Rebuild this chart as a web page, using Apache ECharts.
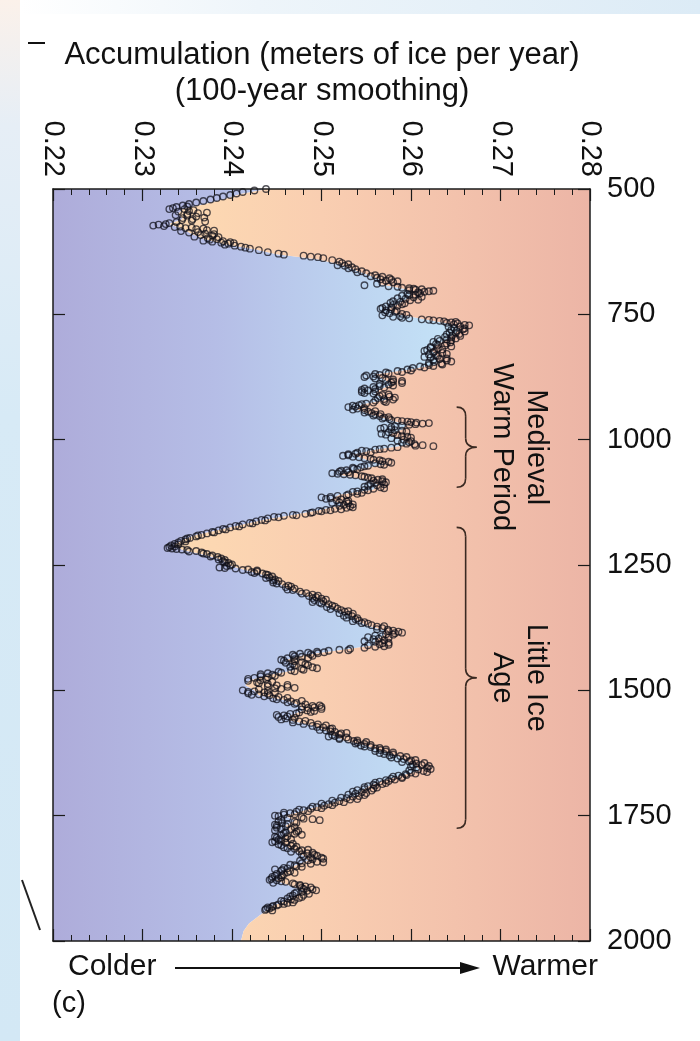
<!DOCTYPE html>
<html>
<head>
<meta charset="utf-8">
<script src="https://cdn.jsdelivr.net/npm/echarts@6/dist/echarts.min.js"></script>
<style>
html,body{margin:0;padding:0;background:#ffffff;}
#chart{width:700px;height:1041px;}
</style>
</head>
<body>
<div id="chart"></div>
<script>
// ---- axis definitions ----
const accTicks = [0.22, 0.23, 0.24, 0.25, 0.26, 0.27, 0.28];
const yearTicks = [500, 750, 1000, 1250, 1500, 1750, 2000];

// ---- boundary between cold (blue) and warm (peach) shading ----
const boundaryYears = [500,510,520,530,540,550,560,570,580,590,600,610,620,630,640,650,660,670,680,690,
  700,710,720,730,740,750,760,770,780,790,800,810,820,830,840,850,860,870,880,890,
  900,910,920,930,940,950,960,970,980,990,1000,1010,1020,1030,1040,1050,1060,1070,1080,1090,
  1100,1110,1120,1130,1140,1150,1160,1170,1180,1190,1200,1210,1220,1230,1240,1250,1260,1270,1280,1290,
  1300,1310,1320,1330,1340,1350,1360,1370,1380,1390,1400,1410,1420,1430,1440,1450,1460,1470,1480,1490,
  1500,1510,1520,1530,1540,1550,1560,1570,1580,1590,1600,1610,1620,1630,1640,1650,1660,1670,1680,1690,
  1700,1710,1720,1730,1740,1750,1760,1770,1780,1790,1800,1810,1820,1830,1840,1850,1860,1870,1880,1890,
  1900,1910,1920,1930,1940,1950,1965,1980,2000];
const boundaryAcc = [0.2440,0.2410,0.2392,0.2370,0.2345,0.2340,0.2345,0.2330,0.2345,0.2355,0.2370,0.2392,0.2425,0.2450,0.2495,0.2520,0.2535,0.2550,0.2565,0.2565,
  0.2595,0.2600,0.2595,0.2585,0.2575,0.2585,0.2615,0.2645,0.2655,0.2648,0.2640,0.2630,0.2622,0.2628,0.2630,0.2628,0.2600,0.2560,0.2570,0.2580,
  0.2565,0.2560,0.2575,0.2545,0.2540,0.2555,0.2575,0.2595,0.2590,0.2575,0.2590,0.2600,0.2560,0.2535,0.2550,0.2570,0.2540,0.2520,0.2550,0.2563,
  0.2558,0.2520,0.2510,0.2525,0.2500,0.2470,0.2435,0.2410,0.2385,0.2360,0.2345,0.2335,0.2345,0.2370,0.2390,0.2395,0.2415,0.2435,0.2448,0.2455,
  0.2465,0.2480,0.2495,0.2505,0.2518,0.2530,0.2540,0.2550,0.2570,0.2570,0.2560,0.2560,0.2520,0.2480,0.2460,0.2470,0.2470,0.2440,0.2420,0.2415,
  0.2425,0.2430,0.2460,0.2475,0.2480,0.2465,0.2465,0.2490,0.2505,0.2515,0.2525,0.2550,0.2565,0.2585,0.2595,0.2605,0.2610,0.2590,0.2570,0.2555,
  0.2545,0.2540,0.2520,0.2500,0.2480,0.2460,0.2470,0.2460,0.2465,0.2460,0.2455,0.2460,0.2470,0.2480,0.2485,0.2470,0.2460,0.2455,0.2450,0.2465,
  0.2480,0.2470,0.2460,0.2445,0.2438,0.2430,0.2419,0.2413,0.2410];

// ---- accumulation samples [year, meters of ice per year] ----
const pts0500 = [[500,0.2438],[503,0.2425],[506,0.2412],[509,0.2405],[512,0.2398],[515,0.2390],[518,0.2383],[521,0.2376],[524,0.2368],[527,0.2360],[530,0.2352],[533,0.2345],[536,0.2338],[538,0.2334],[540,0.2347],[542,0.2357],[545,0.2340],[548,0.2362],[550,0.2350],[552,0.2337],[555,0.2360],[557,0.2369],[560,0.2356],[562,0.2344],[565,0.2370],[568,0.2330],[571,0.2318],[573,0.2312],[574,0.2324],[576,0.2336],[578,0.2348],[580,0.2360],[582,0.2372],[584,0.2343],[587,0.2352],[590,0.2380],[592,0.2365],[595,0.2358],[598,0.2373],[600,0.2383]];
const pts0600 = [[603,0.2368],[605,0.2378],[607,0.2388],[609,0.2396],[611,0.2392],[613,0.2403],[615,0.2410],[617,0.2415],[619,0.2420],[622,0.2430],[626,0.2440],[629,0.2452],[631,0.2458],[633,0.2480],[635,0.2488],[636,0.2496],[638,0.2502],[642,0.2512],[645,0.2520],[648,0.2523],[650,0.2530],[653,0.2526],[656,0.2534],[660,0.2538],[664,0.2545],[668,0.2550],[672,0.2560],[675,0.2568],[678,0.2576],[680,0.2566],[683,0.2572],[686,0.2580],[689,0.2562],[692,0.2548],[694,0.2575],[697,0.2590],[699,0.2603],[700,0.2612]];
const pts0700 = [[702,0.2598],[704,0.2620],[706,0.2608],[709,0.2596],[711,0.2605],[713,0.2590],[716,0.2603],[719,0.2594],[722,0.2599],[725,0.2588],[728,0.2593],[731,0.2580],[734,0.2572],[737,0.2568],[740,0.2578],[743,0.2584],[746,0.2571],[749,0.2590],[752,0.2568],[755,0.2580],[758,0.2598],[760,0.2612],[762,0.2625],[764,0.2637],[766,0.2645],[768,0.2652],[771,0.2660],[774,0.2655],[777,0.2648],[780,0.2658],[783,0.2651],[786,0.2643],[789,0.2654],[792,0.2646],[795,0.2638],[798,0.2650],[800,0.2640]];
const pts0800 = [[803,0.2632],[806,0.2644],[809,0.2628],[812,0.2638],[815,0.2622],[818,0.2630],[821,0.2618],[824,0.2626],[827,0.2635],[830,0.2620],[833,0.2630],[836,0.2622],[839,0.2632],[842,0.2640],[845,0.2626],[848,0.2634],[851,0.2620],[854,0.2610],[857,0.2602],[860,0.2596],[863,0.2585],[866,0.2572],[869,0.2560],[872,0.2550],[875,0.2548],[878,0.2560],[881,0.2572],[884,0.2580],[887,0.2590],[890,0.2575],[893,0.2565],[896,0.2570],[899,0.2560]];
const pts0900 = [[902,0.2552],[905,0.2545],[908,0.2558],[911,0.2568],[914,0.2576],[917,0.2563],[920,0.2580],[923,0.2570],[926,0.2558],[929,0.2545],[932,0.2535],[935,0.2530],[938,0.2540],[941,0.2548],[944,0.2552],[947,0.2556],[950,0.2560],[953,0.2565],[956,0.2570],[959,0.2576],[962,0.2585],[964,0.2596],[966,0.2606],[968,0.2613],[970,0.2598],[973,0.2582],[976,0.2570],[979,0.2578],[982,0.2590],[985,0.2575],[988,0.2567],[991,0.2585],[994,0.2596],[997,0.2578],[1000,0.2592]];
const pts1000 = [[1003,0.2600],[1006,0.2590],[1009,0.2604],[1011,0.2613],[1013,0.2625],[1015,0.2585],[1018,0.2570],[1020,0.2560],[1023,0.2550],[1026,0.2540],[1029,0.2530],[1032,0.2524],[1034,0.2535],[1037,0.2548],[1040,0.2558],[1043,0.2568],[1046,0.2578],[1049,0.2566],[1052,0.2552],[1055,0.2544],[1058,0.2536],[1061,0.2528],[1064,0.2520],[1067,0.2512],[1069,0.2525],[1071,0.2538],[1074,0.2548],[1077,0.2556],[1080,0.2563],[1083,0.2568],[1086,0.2560],[1089,0.2570],[1092,0.2552],[1095,0.2566],[1098,0.2558],[1100,0.2548]];
const pts1100 = [[1103,0.2540],[1106,0.2545],[1109,0.2530],[1112,0.2518],[1115,0.2500],[1117,0.2510],[1119,0.2522],[1121,0.2517],[1123,0.2528],[1125,0.2520],[1127,0.2530],[1130,0.2525],[1133,0.2532],[1136,0.2528],[1138,0.2515],[1140,0.2505],[1142,0.2497],[1145,0.2490],[1148,0.2482],[1150,0.2468],[1152,0.2458],[1154,0.2447],[1157,0.2440],[1160,0.2433],[1163,0.2427],[1166,0.2420],[1169,0.2412],[1172,0.2404],[1175,0.2398],[1178,0.2390],[1181,0.2385],[1184,0.2378],[1187,0.2372],[1190,0.2366],[1193,0.2360],[1196,0.2353],[1199,0.2348]];
const pts1200 = [[1202,0.2343],[1205,0.2340],[1208,0.2336],[1211,0.2332],[1214,0.2330],[1216,0.2328],[1218,0.2338],[1220,0.2350],[1222,0.2360],[1225,0.2366],[1228,0.2372],[1231,0.2378],[1234,0.2384],[1237,0.2388],[1240,0.2392],[1243,0.2390],[1246,0.2396],[1249,0.2400],[1252,0.2394],[1255,0.2386],[1257,0.2404],[1259,0.2418],[1261,0.2428],[1264,0.2422],[1267,0.2434],[1270,0.2440],[1273,0.2445],[1276,0.2438],[1279,0.2448],[1282,0.2452],[1285,0.2446],[1288,0.2456],[1291,0.2463],[1294,0.2460],[1297,0.2470],[1300,0.2468]];
const pts1300 = [[1303,0.2476],[1306,0.2483],[1309,0.2490],[1312,0.2486],[1314,0.2494],[1317,0.2500],[1320,0.2492],[1322,0.2502],[1325,0.2498],[1328,0.2508],[1331,0.2512],[1334,0.2506],[1337,0.2518],[1340,0.2522],[1343,0.2526],[1346,0.2520],[1349,0.2530],[1352,0.2534],[1355,0.2528],[1358,0.2538],[1361,0.2542],[1364,0.2548],[1367,0.2552],[1370,0.2556],[1373,0.2562],[1376,0.2568],[1379,0.2574],[1381,0.2580],[1383,0.2586],[1385,0.2590],[1388,0.2572],[1391,0.2560],[1394,0.2552],[1397,0.2564],[1400,0.2570]];
const pts1400 = [[1403,0.2560],[1405,0.2575],[1408,0.2565],[1410,0.2552],[1412,0.2570],[1415,0.2548],[1417,0.2532],[1419,0.2520],[1421,0.2508],[1423,0.2495],[1425,0.2485],[1427,0.2476],[1429,0.2468],[1431,0.2490],[1433,0.2478],[1436,0.2462],[1439,0.2455],[1442,0.2470],[1445,0.2460],[1448,0.2482],[1451,0.2470],[1454,0.2490],[1457,0.2478],[1460,0.2466],[1463,0.2452],[1466,0.2440],[1469,0.2445],[1472,0.2432],[1475,0.2425],[1478,0.2438],[1481,0.2418],[1484,0.2428],[1487,0.2440],[1490,0.2450],[1493,0.2462],[1496,0.2448],[1498,0.2430]];
const pts1500 = [[1500,0.2412],[1502,0.2425],[1504,0.2436],[1506,0.2418],[1508,0.2430],[1510,0.2442],[1513,0.2452],[1516,0.2446],[1519,0.2458],[1522,0.2466],[1525,0.2472],[1528,0.2482],[1531,0.2490],[1533,0.2500],[1535,0.2485],[1538,0.2478],[1541,0.2492],[1544,0.2475],[1547,0.2465],[1550,0.2458],[1553,0.2452],[1556,0.2460],[1559,0.2468],[1562,0.2475],[1565,0.2488],[1568,0.2496],[1571,0.2490],[1574,0.2502],[1577,0.2510],[1580,0.2505],[1583,0.2515],[1586,0.2522],[1589,0.2512],[1592,0.2508],[1595,0.2520],[1598,0.2530]];
const pts1600 = [[1601,0.2536],[1604,0.2540],[1607,0.2548],[1610,0.2544],[1613,0.2555],[1616,0.2560],[1619,0.2566],[1622,0.2572],[1625,0.2565],[1628,0.2580],[1631,0.2588],[1634,0.2578],[1637,0.2592],[1640,0.2600],[1643,0.2590],[1646,0.2606],[1649,0.2612],[1652,0.2600],[1655,0.2618],[1658,0.2608],[1661,0.2614],[1664,0.2600],[1667,0.2594],[1670,0.2586],[1673,0.2590],[1676,0.2578],[1679,0.2572],[1682,0.2565],[1685,0.2572],[1688,0.2558],[1691,0.2552],[1694,0.2562],[1697,0.2548],[1700,0.2556]];
const pts1700 = [[1703,0.2545],[1706,0.2538],[1709,0.2548],[1712,0.2535],[1715,0.2528],[1718,0.2532],[1721,0.2520],[1724,0.2515],[1727,0.2508],[1730,0.2503],[1733,0.2495],[1736,0.2488],[1739,0.2480],[1742,0.2472],[1745,0.2465],[1748,0.2458],[1751,0.2452],[1754,0.2462],[1757,0.2490],[1759,0.2498],[1762,0.2470],[1765,0.2456],[1768,0.2448],[1771,0.2460],[1774,0.2450],[1777,0.2466],[1780,0.2474],[1783,0.2460],[1786,0.2470],[1789,0.2455],[1792,0.2448],[1795,0.2460],[1798,0.2452]];
const pts1800 = [[1801,0.2448],[1804,0.2460],[1807,0.2452],[1810,0.2466],[1813,0.2458],[1816,0.2470],[1819,0.2478],[1822,0.2466],[1825,0.2484],[1828,0.2492],[1831,0.2480],[1834,0.2500],[1837,0.2490],[1840,0.2476],[1843,0.2502],[1846,0.2488],[1849,0.2470],[1852,0.2478],[1855,0.2462],[1858,0.2456],[1861,0.2465],[1864,0.2470],[1867,0.2458],[1870,0.2448],[1873,0.2455],[1876,0.2444],[1879,0.2450],[1882,0.2460],[1885,0.2468],[1888,0.2476],[1891,0.2482],[1894,0.2478],[1897,0.2490],[1900,0.2484]];
const pts1900 = [[1903,0.2472],[1906,0.2486],[1909,0.2468],[1912,0.2478],[1915,0.2462],[1918,0.2470],[1921,0.2458],[1924,0.2462],[1927,0.2452],[1930,0.2446],[1933,0.2440],[1936,0.2438],[1939,0.2445]];
// additional samples filling the wider clusters
const extraA = [[535,0.2350],[540,0.2330],[544,0.2352],[547,0.2372],[553,0.2350],[558,0.2345],[563,0.2355],[566,0.2338],[570,0.2326],[575,0.2342],[577,0.2355],[579,0.2368],[583,0.2380],[586,0.2362],[589,0.2370],[593,0.2378],[596,0.2385],[601,0.2375],[604,0.2390],[606,0.2398],[608,0.2402],
  [652,0.2518],[658,0.2530],[666,0.2540],[674,0.2555],[677,0.2562],[681,0.2578],[684,0.2585],[687,0.2568],[695,0.2585],[698,0.2598],
  [701,0.2605],[703,0.2625],[705,0.2615],[708,0.2610],[712,0.2598],[715,0.2612],[718,0.2585],[721,0.2608],[724,0.2580],[727,0.2577],[730,0.2590],[733,0.2585],[736,0.2578],[739,0.2566],[742,0.2572],[745,0.2582],[748,0.2576],[751,0.2595],[754,0.2588],[757,0.2590],
  [761,0.2620],[763,0.2632],[765,0.2650],[767,0.2640],[770,0.2648],[772,0.2665],[775,0.2642],[778,0.2660],[781,0.2645],[784,0.2660],[787,0.2650],[790,0.2640],[793,0.2655],[796,0.2645],[799,0.2630],[802,0.2645],[805,0.2625],[808,0.2640],[811,0.2630],[814,0.2645],[817,0.2622],[820,0.2635],[823,0.2615],[826,0.2625],[829,0.2640],[832,0.2628],[835,0.2615],[838,0.2640],[841,0.2625],[844,0.2645],[847,0.2620],[850,0.2635],[853,0.2625],[856,0.2615],
  [862,0.2600],[865,0.2590],[868,0.2575],[871,0.2565],[874,0.2558],[877,0.2568],[880,0.2580],[883,0.2590],[886,0.2578],[889,0.2565],[892,0.2580],[895,0.2558],[898,0.2548],[901,0.2545],[904,0.2560],[907,0.2548],[910,0.2575],[913,0.2565],[916,0.2582],[919,0.2570],[922,0.2560],[925,0.2572],[928,0.2550],[931,0.2542],[934,0.2538],[937,0.2548],[940,0.2535],[943,0.2560],[946,0.2548],[949,0.2566],[952,0.2558],[955,0.2575],[958,0.2568],[961,0.2578],[963,0.2590],[965,0.2600],[967,0.2620],[969,0.2605],[972,0.2590],[975,0.2578],[978,0.2566],[981,0.2582],[984,0.2595],[987,0.2580],[990,0.2572],[993,0.2590],[996,0.2600]];
const extraB = [[1002,0.2585],[1005,0.2598],[1008,0.2595],[1012,0.2605],[1016,0.2578],[1019,0.2565],[1022,0.2545],[1025,0.2555],[1028,0.2538],[1031,0.2530],[1035,0.2542],[1038,0.2555],[1041,0.2565],[1044,0.2575],[1047,0.2560],[1050,0.2570],[1053,0.2548],[1056,0.2535],[1059,0.2540],[1062,0.2522],[1065,0.2530],[1068,0.2518],[1070,0.2532],[1073,0.2545],[1076,0.2552],[1079,0.2568],[1082,0.2558],[1085,0.2572],[1088,0.2555],[1091,0.2562],[1094,0.2548],[1097,0.2570],[1101,0.2552],[1104,0.2535],[1108,0.2540],[1111,0.2528],[1114,0.2510],[1118,0.2505],[1122,0.2530],[1126,0.2512],[1129,0.2535],[1132,0.2520],[1135,0.2535],[1139,0.2522],[1141,0.2510],
  [1143,0.2500],[1146,0.2488],[1151,0.2472],[1155,0.2452],[1161,0.2437],[1167,0.2423],[1173,0.2408],[1179,0.2393],[1185,0.2380],[1191,0.2362],[1197,0.2350],[1203,0.2348],[1209,0.2340],[1213,0.2336],[1217,0.2333],[1219,0.2344],[1223,0.2352],[1227,0.2368],[1233,0.2376],[1239,0.2385],[1245,0.2392],[1251,0.2398],[1256,0.2392],[1260,0.2412],[1263,0.2428],[1266,0.2425],[1269,0.2438],[1275,0.2442],[1281,0.2446],[1287,0.2450],[1293,0.2466],[1299,0.2462],
  [1307,0.2478],[1311,0.2496],[1316,0.2490],[1319,0.2505],[1324,0.2490],[1327,0.2500],[1333,0.2515],[1338,0.2510],[1342,0.2530],[1347,0.2535],[1351,0.2525],[1356,0.2540],[1362,0.2535],[1366,0.2545],[1372,0.2570],[1378,0.2562],[1382,0.2575],[1386,0.2582],[1389,0.2580],[1392,0.2568],[1395,0.2575],[1398,0.2558],[1402,0.2548],[1406,0.2568],[1409,0.2575],[1413,0.2560],
  [1420,0.2530],[1424,0.2503],[1426,0.2496],[1428,0.2488],[1432,0.2470],[1435,0.2485],[1438,0.2470],[1441,0.2458],[1444,0.2478],[1447,0.2468],[1450,0.2485],[1453,0.2465],[1456,0.2495],[1459,0.2480],[1462,0.2470],[1465,0.2455],[1468,0.2432],[1471,0.2448],[1474,0.2440],[1477,0.2418],[1480,0.2432],[1483,0.2445],[1486,0.2430],[1489,0.2462],[1492,0.2440],[1495,0.2470],[1497,0.2455]];
const extraC = [[1501,0.2440],[1503,0.2418],[1505,0.2448],[1507,0.2440],[1509,0.2422],[1512,0.2436],[1515,0.2462],[1518,0.2450],
  [1521,0.2478],[1524,0.2462],[1527,0.2470],[1530,0.2498],[1532,0.2478],[1534,0.2492],[1537,0.2500],[1540,0.2484],[1543,0.2488],[1546,0.2472],[1549,0.2450],[1552,0.2462],[1555,0.2470],[1558,0.2455],[1561,0.2482],[1564,0.2468],[1567,0.2480],[1570,0.2505],[1573,0.2495],[1576,0.2512],[1579,0.2498],[1582,0.2510],[1585,0.2528],[1588,0.2520],[1591,0.2515],[1594,0.2528],[1597,0.2520],[1600,0.2540],[1603,0.2550],[1606,0.2538],[1609,0.2555],[1612,0.2548],[1615,0.2565],
  [1618,0.2572],[1621,0.2560],[1624,0.2580],[1627,0.2570],[1630,0.2576],[1633,0.2595],[1636,0.2585],[1639,0.2605],[1642,0.2598],[1645,0.2615],[1648,0.2602],[1651,0.2620],[1654,0.2606],[1657,0.2622],[1660,0.2598],[1663,0.2618],[1666,0.2605],[1669,0.2595],[1672,0.2580],[1675,0.2590],[1678,0.2582],[1681,0.2575],[1684,0.2560],[1687,0.2568],[1690,0.2560],[1693,0.2548],[1696,0.2558],[1699,0.2540],
  [1702,0.2535],[1705,0.2550],[1708,0.2530],[1711,0.2542],[1714,0.2522],[1717,0.2540],[1720,0.2512],[1723,0.2525],[1726,0.2500],[1729,0.2512],[1732,0.2490],[1735,0.2500],[1738,0.2475],[1741,0.2485],[1744,0.2458],[1747,0.2470],[1750,0.2448],[1753,0.2478],[1756,0.2480],[1758,0.2455],[1761,0.2452],[1764,0.2472],[1767,0.2462],[1770,0.2450],[1773,0.2470],[1776,0.2455],[1779,0.2448],[1782,0.2472],[1785,0.2458],[1788,0.2478],[1791,0.2462],[1794,0.2450],[1797,0.2466],[1800,0.2455],
  [1803,0.2445],[1806,0.2468],[1809,0.2455],[1812,0.2472],[1815,0.2462],[1818,0.2485],[1821,0.2475],[1824,0.2490],[1827,0.2478],[1830,0.2495],[1833,0.2488],[1836,0.2502],[1839,0.2485],[1842,0.2495],[1845,0.2478],[1848,0.2465],[1851,0.2472],[1854,0.2458],[1857,0.2448],[1860,0.2455],[1863,0.2462],[1866,0.2450],[1869,0.2456],[1872,0.2445],[1875,0.2452],[1878,0.2442],[1881,0.2455],[1884,0.2446],[1887,0.2470],[1890,0.2476],[1893,0.2488],[1896,0.2480],[1899,0.2494],
  [1902,0.2478],[1905,0.2470],[1908,0.2480],[1911,0.2465],[1914,0.2475],[1917,0.2466],[1920,0.2455],[1923,0.2468],[1926,0.2458],[1929,0.2450],[1932,0.2445],[1935,0.2442],[1938,0.2437]];

// ---- annotations (periods in years) ----
const periods = [
  { label: 'Medieval\nWarm Period', from: 935, to: 1095, mid: 1015 },
  { label: 'Little Ice\nAge', from: 1175, to: 1775, mid: 1475 }
];

const allPts = [].concat(pts0500, pts0600, pts0700, pts0800, pts0900, pts1000, pts1100,
  pts1200, pts1300, pts1400, pts1500, pts1600, pts1700, pts1800, pts1900, extraA, extraB, extraC);
const scatterData = allPts.map(p => [p[1], p[0]]);
const boundary = boundaryYears.map((y, i) => [boundaryAcc[i], y]);

const FONT = "'Liberation Sans', Arial, sans-serif";
const xMin = accTicks[0], xMax = accTicks[accTicks.length - 1];
const yMin = yearTicks[0], yMax = yearTicks[yearTicks.length - 1];

const chart = echarts.init(document.getElementById('chart'), null, { renderer: 'canvas' });

function linGrad(x0, x1, stops) {
  return { type: 'linear', x: x0, y: 0, x2: x1, y2: 0, global: true,
    colorStops: stops.map(s => ({ offset: s[0], color: s[1] })) };
}

const axisLineStyle = { color: '#1a1a1a', width: 1.5 };
const tickStyle = { color: '#1a1a1a', width: 1.2 };

const option = {
  animation: false,
  backgroundColor: '#ffffff',
  grid: { left: 53, top: 189, width: 537, height: 752, show: false },
  xAxis: [
    {
      type: 'value', position: 'top', min: xMin, max: xMax, interval: 0.01, z: 10,
      axisLine: { show: true, lineStyle: axisLineStyle },
      axisTick: { show: true, inside: true, length: 12, lineStyle: tickStyle },
      minorTick: { show: true, splitNumber: 5, length: 6, lineStyle: { color: '#1a1a1a', width: 1 } },
      splitLine: { show: false },
      axisLabel: { show: true, rotate: 90, margin: 12, fontSize: 29, color: '#111', fontFamily: FONT,
        formatter: v => v.toFixed(2) }
    },
    {
      type: 'value', position: 'bottom', min: xMin, max: xMax, interval: 0.01, z: 10,
      axisLine: { show: true, lineStyle: axisLineStyle },
      axisTick: { show: true, inside: true, length: 12, lineStyle: tickStyle },
      minorTick: { show: true, splitNumber: 5, length: 6, lineStyle: { color: '#1a1a1a', width: 1 } },
      splitLine: { show: false },
      axisLabel: { show: false }
    }
  ],
  yAxis: [
    {
      type: 'value', position: 'right', inverse: true, min: yMin, max: yMax, interval: 250, z: 10,
      axisLine: { show: true, lineStyle: axisLineStyle },
      axisTick: { show: true, inside: true, length: 12, lineStyle: tickStyle },
      splitLine: { show: false },
      axisLabel: { show: true, margin: 17, fontSize: 29, color: '#111', fontFamily: FONT,
        formatter: v => String(v) }
    },
    {
      type: 'value', position: 'left', inverse: true, min: yMin, max: yMax, interval: 250, z: 10,
      axisLine: { show: true, lineStyle: axisLineStyle },
      axisTick: { show: true, inside: true, length: 12, lineStyle: tickStyle },
      splitLine: { show: false },
      axisLabel: { show: false }
    }
  ],
  series: [
    {
      type: 'custom',
      xAxisIndex: 0, yAxisIndex: 0,
      clip: true,
      z: 0,
      silent: true,
      data: [[xMin, yMin]],
      renderItem: function (params, api) {
        const pL = api.coord([xMin, yMin])[0];
        const pR = api.coord([xMax, yMin])[0];
        const left = [api.coord([xMin, yMin])];
        const right = [api.coord([xMax, yMin])];
        boundary.forEach(b => { const c = api.coord(b); left.push(c); right.push(c); });
        left.push(api.coord([xMin, yMax]));
        right.push(api.coord([xMax, yMax]));
        const blue = linGrad(pL, pR, [[0, '#aeacda'], [0.3, '#b5bde6'], [0.55, '#bdd3f0'], [0.75, '#c4e3f7'], [1, '#c8ebfb']]);
        const peach = linGrad(pL, pR, [[0, '#fde2b3'], [0.3, '#fcd7b2'], [0.5, '#f9ceb1'], [0.75, '#f3c2ac'], [1, '#ecb5a6']]);
        return { type: 'group', children: [
          { type: 'polygon', shape: { points: left }, style: { fill: blue } },
          { type: 'polygon', shape: { points: right }, style: { fill: peach } }
        ] };
      }
    },
    {
      type: 'scatter',
      xAxisIndex: 0, yAxisIndex: 0,
      z: 3,
      symbol: 'circle',
      symbolSize: 6.5,
      data: scatterData,
      itemStyle: { color: 'rgba(0,0,0,0)', borderColor: 'rgba(15,15,25,0.9)', borderWidth: 1.35 }
    }
  ]
};

chart.setOption(option);

// ---- annotation graphics positioned via the axes ----
function px(v, y) { return chart.convertToPixel({ gridIndex: 0 }, [v, y]); }

const g = [];
// page decorations
g.push({ type: 'rect', shape: { x: 0, y: 0, width: 20, height: 1041 }, z: 0,
  style: { fill: { type: 'linear', x: 0, y: 0, x2: 0, y2: 1, colorStops: [
    { offset: 0, color: '#fbf1ea' }, { offset: 0.12, color: '#e6eef6' }, { offset: 0.4, color: '#d7eaf6' }, { offset: 1, color: '#d3e8f5' }] } } });
g.push({ type: 'rect', shape: { x: 20, y: 0, width: 680, height: 14 }, z: 0,
  style: { fill: { type: 'linear', x: 0, y: 0, x2: 1, y2: 0, colorStops: [
    { offset: 0, color: '#ffffff' }, { offset: 0.35, color: '#eef5fa' }, { offset: 1, color: '#dcebf6' }] } } });
g.push({ type: 'line', shape: { x1: 22, y1: 880, x2: 40, y2: 930 }, style: { stroke: '#222', lineWidth: 2 } });

// title
g.push({ type: 'line', shape: { x1: 28, y1: 43, x2: 45, y2: 43 }, style: { stroke: '#111', lineWidth: 2 } });
g.push({ type: 'text', x: 322, y: 55, style: { text: 'Accumulation (meters of ice per year)', font: '31px ' + FONT, fill: '#111', textAlign: 'center', textVerticalAlign: 'middle' } });
g.push({ type: 'text', x: 322, y: 91, style: { text: '(100-year smoothing)', font: '31px ' + FONT, fill: '#111', textAlign: 'center', textVerticalAlign: 'middle' } });

// bottom labels
const bottomY = px(xMin, yMax)[1];
g.push({ type: 'text', x: 68, y: bottomY + 26, style: { text: 'Colder', font: '30px ' + FONT, fill: '#111', textAlign: 'left', textVerticalAlign: 'middle' } });
g.push({ type: 'text', x: 598, y: bottomY + 26, style: { text: 'Warmer', font: '30px ' + FONT, fill: '#111', textAlign: 'right', textVerticalAlign: 'middle' } });
g.push({ type: 'line', shape: { x1: 175, y1: bottomY + 27, x2: 468, y2: bottomY + 27 }, style: { stroke: '#111', lineWidth: 2 } });
g.push({ type: 'polygon', shape: { points: [[460, bottomY + 21], [480, bottomY + 27], [460, bottomY + 33]] }, style: { fill: '#111' } });
g.push({ type: 'text', x: 52, y: bottomY + 63, style: { text: '(c)', font: '29px ' + FONT, fill: '#111', textAlign: 'left', textVerticalAlign: 'middle' } });

// period braces and labels
const braceStyle = { stroke: '#3a2a22', lineWidth: 1.6, fill: null };
periods.forEach(p => {
  const top = px(0.2651, p.from)[1];
  const bot = px(0.2651, p.to)[1];
  const mid = px(0.2651, p.mid)[1];
  const xl = px(0.2651, p.from)[0];
  const xs = xl + 9, xt = xl + 20;
  const r = 9;
  g.push({ type: 'bezierCurve', z: 10, shape: { x1: xl, y1: top, cpx1: xs, cpy1: top, x2: xs, y2: top + r }, style: braceStyle });
  g.push({ type: 'line', z: 10, shape: { x1: xs, y1: top + r, x2: xs, y2: mid - r }, style: braceStyle });
  g.push({ type: 'bezierCurve', z: 10, shape: { x1: xs, y1: mid - r, cpx1: xs, cpy1: mid, x2: xt, y2: mid }, style: braceStyle });
  g.push({ type: 'bezierCurve', z: 10, shape: { x1: xt, y1: mid, cpx1: xs, cpy1: mid, x2: xs, y2: mid + r }, style: braceStyle });
  g.push({ type: 'line', z: 10, shape: { x1: xs, y1: mid + r, x2: xs, y2: bot - r }, style: braceStyle });
  g.push({ type: 'bezierCurve', z: 10, shape: { x1: xs, y1: bot - r, cpx1: xs, cpy1: bot, x2: xl, y2: bot }, style: braceStyle });
  g.push({ type: 'text', x: 519, y: mid, rotation: -Math.PI / 2, z: 10,
    style: { text: p.label, font: '29px ' + FONT, lineHeight: 34, fill: '#111', textAlign: 'center', textVerticalAlign: 'middle' } });
});

chart.setOption({ graphic: g });
</script>
</body>
</html>
